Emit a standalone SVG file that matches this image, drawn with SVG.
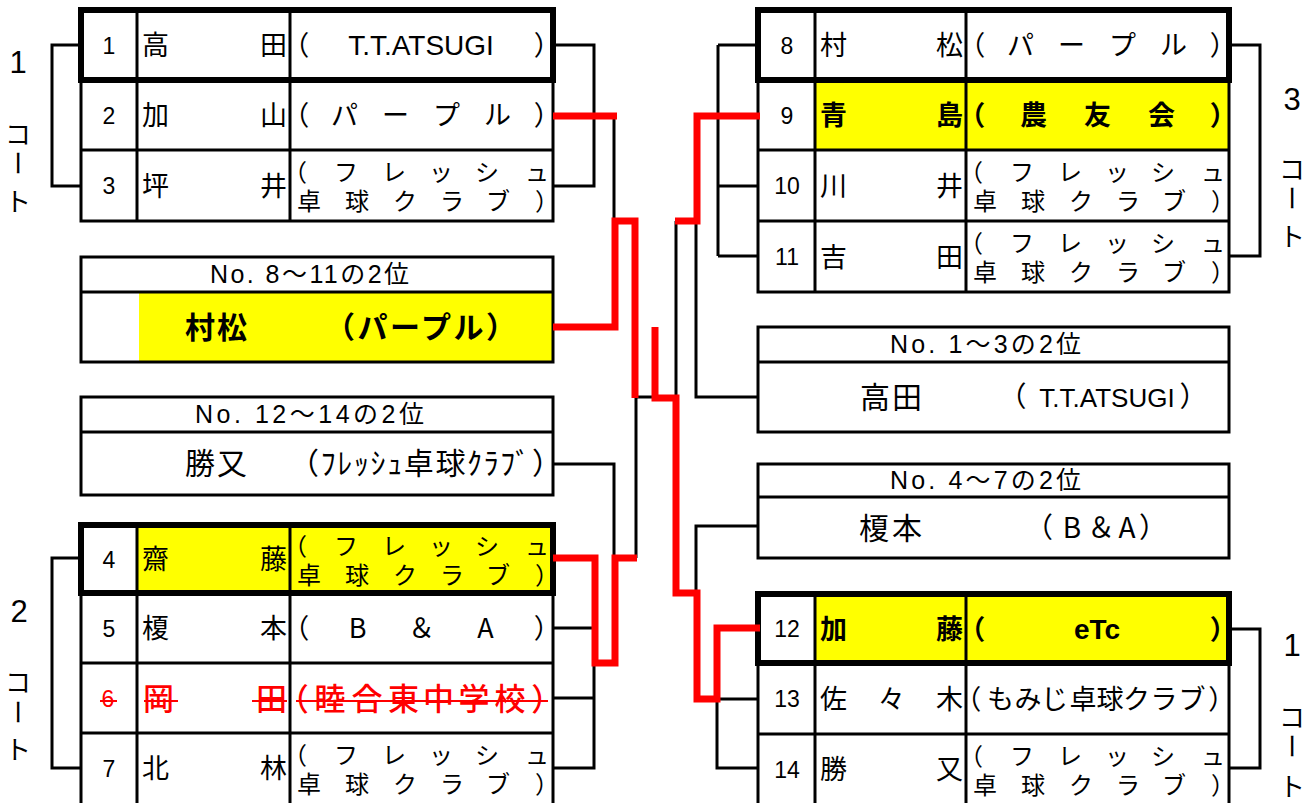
<svg xmlns="http://www.w3.org/2000/svg" width="1313" height="803" viewBox="0 0 1313 803">
<defs>
<style>
.g{stroke:#000;stroke-width:3;fill:none}
.tk{stroke:#000;stroke-width:6;fill:none}
.y{fill:#ffff00;stroke:none}
.cn{stroke:#000;stroke-width:3;fill:none}
.rd{stroke:#ff0000;stroke-width:7;fill:none;stroke-linejoin:miter}
.st{stroke:#ff0000;stroke-width:2}
.num{font-family:"Liberation Sans",sans-serif;font-size:23px;text-anchor:middle;fill:#000}
.nm{font-family:"Noto Sans CJK JP",sans-serif;font-size:27px;fill:#000}
.c27{font-family:"Noto Sans CJK JP",sans-serif;font-size:27px;text-anchor:middle;fill:#000;font-feature-settings:"halt"}
.c24{font-family:"Noto Sans CJK JP",sans-serif;font-size:24px;text-anchor:middle;fill:#000;font-feature-settings:"halt"}
.lat{font-family:"Liberation Sans",sans-serif;font-size:28px;text-anchor:middle;fill:#000}
.hd{font-family:"Liberation Sans","Noto Sans CJK JP",sans-serif;font-size:25px;fill:#000}
.bx{font-family:"Noto Sans CJK JP",sans-serif;font-size:30px;fill:#000;font-feature-settings:"halt"}
.lb{font-family:"Liberation Sans",sans-serif;font-size:31px;text-anchor:middle;fill:#000}
.lj{font-family:"Noto Sans CJK JP",sans-serif;font-size:26px;text-anchor:middle;fill:#000}
.b{font-weight:bold}
.red{fill:#ff0000}
</style>
</defs>
<rect x="0" y="0" width="1313" height="803" fill="#fff"/>

<g id="label-left-top">
<text class="lb" x="18" y="73">1</text>
<text class="lj" x="18" y="144">コ</text>
<text class="lj" x="18" y="173" transform="rotate(90 18 163)">ー</text>
<text class="lj" x="18" y="211">ト</text>
</g>
<g id="label-left-bottom">
<text class="lb" x="19" y="622">2</text>
<text class="lj" x="18" y="692">コ</text>
<text class="lj" x="18" y="722" transform="rotate(90 18 712)">ー</text>
<text class="lj" x="18" y="759">ト</text>
</g>
<g id="label-right-top">
<text class="lb" x="1292" y="110">3</text>
<text class="lj" x="1292" y="179">コ</text>
<text class="lj" x="1292" y="208" transform="rotate(90 1292 198)">ー</text>
<text class="lj" x="1292" y="246">ト</text>
</g>
<g id="label-right-bottom">
<text class="lb" x="1292" y="656">1</text>
<text class="lj" x="1292" y="727">コ</text>
<text class="lj" x="1292" y="756" transform="rotate(90 1292 746)">ー</text>
<text class="lj" x="1292" y="796">ト</text>
</g>

<g id="table-1-3">
<rect class="g" x="81" y="80" width="472" height="141"/>
<line class="g" x1="81" y1="150" x2="553" y2="150"/>
<line class="g" x1="137" y1="10" x2="137" y2="221"/>
<line class="g" x1="290" y1="10" x2="290" y2="221"/>
<rect class="tk" x="81" y="10" width="472" height="70"/>
<text class="num" x="109" y="53.5">1</text>
<text class="nm" x="142" y="55" textLength="145" lengthAdjust="spacing">高田</text>
<text class="c27" x="302.5" y="55">（</text>
<text class="lat" x="421" y="55">T.T.ATSUGI</text>
<text class="c27" x="540.5" y="55">）</text>
<text class="num" x="109" y="123.5">2</text>
<text class="nm" x="142" y="125" textLength="145" lengthAdjust="spacing">加山</text>
<text class="c27" x="302.5 344.5 395.5 446.5 497.5 540.5" y="125">（パープル）</text>
<text class="num" x="109" y="194">3</text>
<text class="nm" x="142" y="196" textLength="145" lengthAdjust="spacing">坪井</text>
<text class="c24"><tspan x="301 346 394 441 487 537" y="181">（フレッシュ</tspan><tspan x="309 357 405 452 498 541" y="210">卓球クラブ）</tspan></text>
</g>

<g id="box-8-11">
<rect class="y" x="139" y="292" width="414" height="70"/>
<rect class="g" x="81" y="257" width="472" height="105"/>
<line class="g" x1="81" y1="292" x2="553" y2="292"/>
<text class="hd" x="210" y="283" textLength="199" lengthAdjust="spacing">No. 8～11の2位</text>
<text class="bx b" x="185" y="338" textLength="62" lengthAdjust="spacing">村松</text>
<text class="bx b" x="340" y="338" textLength="161" lengthAdjust="spacing">（パープル）</text>
</g>

<g id="box-12-14">
<rect class="g" x="81" y="397" width="472" height="98"/>
<line class="g" x1="81" y1="432" x2="553" y2="432"/>
<text class="hd" x="195" y="423" textLength="229" lengthAdjust="spacing">No. 12～14の2位</text>
<text class="bx" x="185" y="474" textLength="62" lengthAdjust="spacing">勝又</text>
<text class="bx" x="304" y="474" textLength="243" lengthAdjust="spacing">（ﾌﾚｯｼｭ卓球ｸﾗﾌﾞ）</text>
</g>

<g id="table-4-7">
<rect class="y" x="137" y="525" width="416" height="68"/>
<rect class="g" x="81" y="593" width="472" height="212"/>
<line class="g" x1="81" y1="663" x2="553" y2="663"/>
<line class="g" x1="81" y1="733" x2="553" y2="733"/>
<line class="g" x1="137" y1="525" x2="137" y2="805"/>
<line class="g" x1="290" y1="525" x2="290" y2="805"/>
<rect class="tk" x="81" y="525" width="472" height="68"/>
<text class="num" x="109" y="567.5">4</text>
<text class="nm" x="142" y="569" textLength="145" lengthAdjust="spacing">齋藤</text>
<text class="c24"><tspan x="301 346 394 441 487 537" y="555">（フレッシュ</tspan><tspan x="309 357 405 452 498 541" y="584">卓球クラブ）</tspan></text>
<text class="num" x="109" y="636.5">5</text>
<text class="nm" x="142" y="638" textLength="145" lengthAdjust="spacing">榎本</text>
<text class="c27" x="302.5 357.5 421.5 485.5 540.5" y="638">（B＆A）</text>
<text class="num red" x="108" y="707">6</text>
<text class="nm red" x="143" y="710" textLength="144" lengthAdjust="spacing" style="font-size:31px;font-weight:500">岡田</text>
<text class="c27 red" x="301 330 367 403.5 438.5 474 510 539" y="710" style="font-size:31px;font-weight:500">（睦合東中学校）</text>
<line class="st" x1="100" y1="701" x2="117" y2="701"/>
<line class="st" x1="144" y1="701" x2="178" y2="701"/>
<line class="st" x1="252" y1="701" x2="287" y2="701"/>
<line class="st" x1="296" y1="701" x2="548" y2="701"/>
<text class="num" x="109" y="776.5">7</text>
<text class="nm" x="142" y="778" textLength="145" lengthAdjust="spacing">北林</text>
<text class="c24"><tspan x="301 346 394 441 487 537" y="764">（フレッシュ</tspan><tspan x="309 357 405 452 498 541" y="793">卓球クラブ）</tspan></text>
</g>

<g id="table-8-11">
<rect class="y" x="815" y="80" width="414" height="70"/>
<rect class="g" x="758" y="80" width="471" height="212"/>
<line class="g" x1="758" y1="150" x2="1229" y2="150"/>
<line class="g" x1="758" y1="221" x2="1229" y2="221"/>
<line class="g" x1="815" y1="10" x2="815" y2="292"/>
<line class="g" x1="966" y1="10" x2="966" y2="292"/>
<rect class="tk" x="758" y="10" width="471" height="70"/>
<text class="num" x="787" y="53.5">8</text>
<text class="nm" x="820" y="55" textLength="143" lengthAdjust="spacing">村松</text>
<text class="c27" x="978.5 1020.5 1071.5 1122.5 1173.5 1216.5" y="55">（パープル）</text>
<text class="num" x="787" y="123.5">9</text>
<text class="nm b" x="820" y="125" textLength="143" lengthAdjust="spacing">青島</text>
<text class="c27 b" x="978.5 1033.5 1097.5 1161.5 1216.5" y="125">（農友会）</text>
<text class="num" x="787" y="194">10</text>
<text class="nm" x="820" y="196" textLength="143" lengthAdjust="spacing">川井</text>
<text class="c24"><tspan x="977 1022 1070 1117 1163 1213" y="181">（フレッシュ</tspan><tspan x="985 1033 1081 1128 1174 1217" y="210">卓球クラブ）</tspan></text>
<text class="num" x="787" y="265">11</text>
<text class="nm" x="820" y="267" textLength="143" lengthAdjust="spacing">吉田</text>
<text class="c24"><tspan x="977 1022 1070 1117 1163 1213" y="252">（フレッシュ</tspan><tspan x="985 1033 1081 1128 1174 1217" y="281">卓球クラブ）</tspan></text>
</g>

<g id="box-1-3">
<rect class="g" x="758" y="327" width="471" height="105"/>
<line class="g" x1="758" y1="362" x2="1229" y2="362"/>
<text class="hd" x="890" y="353" textLength="191" lengthAdjust="spacing">No. 1～3の2位</text>
<text class="bx" x="860" y="408" textLength="62" lengthAdjust="spacing">高田</text>
<text class="c27" x="1019.5" y="407" style="font-size:28px">（</text>
<text class="lat" x="1107" y="407" style="font-size:26px">T.T.ATSUGI</text>
<text class="c27" x="1186.5" y="407" style="font-size:28px">）</text>
</g>

<g id="box-4-7">
<rect class="g" x="758" y="464" width="471" height="94"/>
<line class="g" x1="758" y1="497" x2="1229" y2="497"/>
<text class="hd" x="890" y="489" textLength="191" lengthAdjust="spacing">No. 4～7の2位</text>
<text class="bx" x="859" y="539" textLength="63" lengthAdjust="spacing">榎本</text>
<text class="c27" x="1046 1072 1101 1127 1146" y="538" style="font-size:28px">（B＆A）</text>
</g>

<g id="table-12-14">
<rect class="y" x="815" y="594" width="414" height="69"/>
<rect class="g" x="758" y="663" width="471" height="142"/>
<line class="g" x1="758" y1="734" x2="1229" y2="734"/>
<line class="g" x1="815" y1="594" x2="815" y2="805"/>
<line class="g" x1="966" y1="594" x2="966" y2="805"/>
<rect class="tk" x="758" y="594" width="471" height="69"/>
<text class="num" x="787" y="637">12</text>
<text class="nm b" x="820" y="639" textLength="143" lengthAdjust="spacing">加藤</text>
<text class="c27 b" x="978.5" y="639">（</text>
<text class="lat b" x="1097" y="639">eTc</text>
<text class="c27 b" x="1216.5" y="639">）</text>
<text class="num" x="787" y="707">13</text>
<text class="nm" x="820" y="709" textLength="143" lengthAdjust="spacing">佐々木</text>
<text class="c27" x="974.5 1000.5 1028 1054.5 1083 1110 1136.5 1164 1192 1215" y="709">（もみじ卓球クラブ）</text>
<text class="num" x="787" y="777.5">14</text>
<text class="nm" x="820" y="779" textLength="143" lengthAdjust="spacing">勝又</text>
<text class="c24"><tspan x="977 1022 1070 1117 1163 1213" y="765">（フレッシュ</tspan><tspan x="985 1033 1081 1128 1174 1217" y="794">卓球クラブ）</tspan></text>
</g>

<g id="connectors">
<path class="cn" d="M81,45 H52 V186 H81"/>
<path class="cn" d="M553,45 H594 V186 H553"/>
<path class="cn" d="M614,116 V221"/>
<path class="cn" d="M553,464 H614 V558"/>
<path class="cn" d="M636,398 V558"/>
<path class="cn" d="M636,397 H655"/>
<path class="cn" d="M676,221 V398"/>
<path class="cn" d="M696,221 V397 H758"/>
<path class="cn" d="M758,526 H696 V593"/>
<path class="cn" d="M718,45 V256"/>
<path class="cn" d="M718,45 H758 M718,116 H758 M718,186 H758 M718,256 H758"/>
<path class="cn" d="M1229,45 H1260 V256 H1229"/>
<path class="cn" d="M553,628 H594 M553,698 H594 M594,558 V768 H553"/>
<path class="cn" d="M81,558 H52 V768 H81"/>
<path class="cn" d="M758,699 H717 V768 H758"/>
<path class="cn" d="M1229,629 H1260 V768 H1229"/>
<path class="rd" d="M553,116 H617"/>
<path class="rd" d="M553,327 H615 V221 H635 V398"/>
<path class="rd" d="M655,327 V398 H676 V593 H697 V699 H717 V628 H760"/>
<path class="rd" d="M675,221 H697 V116 H760"/>
<path class="rd" d="M553,558 H595 V663 H615 V558 H637"/>
</g>
</svg>
